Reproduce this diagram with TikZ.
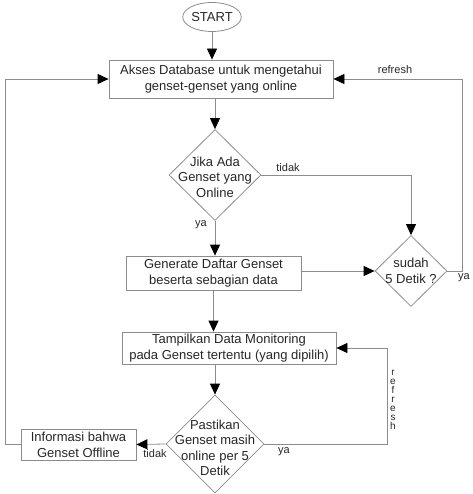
\documentclass[tikz,border=0pt]{standalone}
\usepackage{fontspec}
\setmainfont{Liberation Sans}
\usetikzlibrary{shapes.geometric,arrows.meta}

\tikzset{
	box/.style={draw=gray!90, line width=0.8pt, rectangle, inner sep=0pt, align=center,
		font=\fontsize{13}{16}\selectfont, text=black!85},
	terminal/.style={box, ellipse},
	decision/.style={draw=gray!90, line width=0.8pt, diamond, inner sep=0pt},
	dtext/.style={align=center, inner sep=0pt, font=\fontsize{13}{15.5}\selectfont, text=black!85},
	flow/.style={draw=gray!90, line width=0.8pt, -{Triangle[length=11pt,width=10pt,color=black]}},
	lbl/.style={font=\fontsize{11}{12}\selectfont, text=black!85, inner sep=0pt}
}

\begin{document}
\begin{tikzpicture}[x=1pt,y=-1pt]
			\useasboundingbox (0,0) rectangle (472,494);
			\node[terminal, minimum width=54pt, minimum height=29pt] (start) at (212,17) {START};
			\node[box, minimum width=224pt, minimum height=38pt] (akses) at (221,79) {Akses Database untuk mengetahui\\genset-genset yang online};
			\node[decision, minimum width=92pt, minimum height=91pt,
				label={[dtext, yshift=-2pt]center:Jika Ada\\Genset yang\\Online}] (jika) at (215,175) {};
			\node[box, minimum width=175pt, minimum height=34pt] (generate) at (213.5,273) {Generate Daftar Genset\\beserta sebagian data};
			\node[decision, minimum width=72pt, minimum height=71pt,
				label={[dtext]center:sudah\\5 Detik ?}] (sudah) at (411,271) {};
			\node[box, minimum width=214pt, minimum height=32pt] (tampil) at (229,348) {Tampilkan Data Monitoring\\pada Genset tertentu (yang dipilih)};
			\node[decision, minimum width=98pt, minimum height=98pt,
				label={[dtext, yshift=-4pt]center:Pastikan\\Genset masih\\online per 5\\Detik}] (pastikan) at (215,444) {};
			\node[box, minimum width=115pt, minimum height=31pt] (info) at (78.5,444.5) {Informasi bahwa\\Genset Offline};

			\draw[flow] (start.south) -- (start.south |- akses.north);
			\draw[flow] (jika.north |- akses.south) -- (jika.north);
			\draw[flow] (jika.south) -- (jika.south |- generate.north);
			\draw[flow] (jika.east) -| (sudah.north);
			\draw[flow] (sudah.west -| generate.east) -- (sudah.west);
			\draw[flow] (sudah.east) -- ++(15,0) |- (akses.east);
			\draw[flow] (generate.south) -- (generate.south |- tampil.north);
			\draw[flow] (pastikan.north |- tampil.south) -- (pastikan.north);
			\draw[flow] (pastikan.east) -- ++(123,0) |- (tampil.east);
			\draw[flow] (pastikan.west) -- (info.east);
			\draw[flow] (info.west) -- ++(-15,0) |- (akses.west);

			\node[lbl] (ya1) at (201,225) {ya};
			\node[lbl] (tidak1) at (288,168) {tidak};
			\node[lbl] (refresh1) at (395,70) {refresh};
			\node[lbl] (ya2) at (464,278) {ya};
			\node[lbl] (ya3) at (284,452) {ya};
			\node[lbl] (tidak2) at (155,454) {tidak};
			\node[lbl, align=center, font=\fontsize{10}{9}\selectfont] (refresh2) at (393,400) {r\\e\\f\\r\\e\\s\\h};
		\end{tikzpicture}
\end{document}
